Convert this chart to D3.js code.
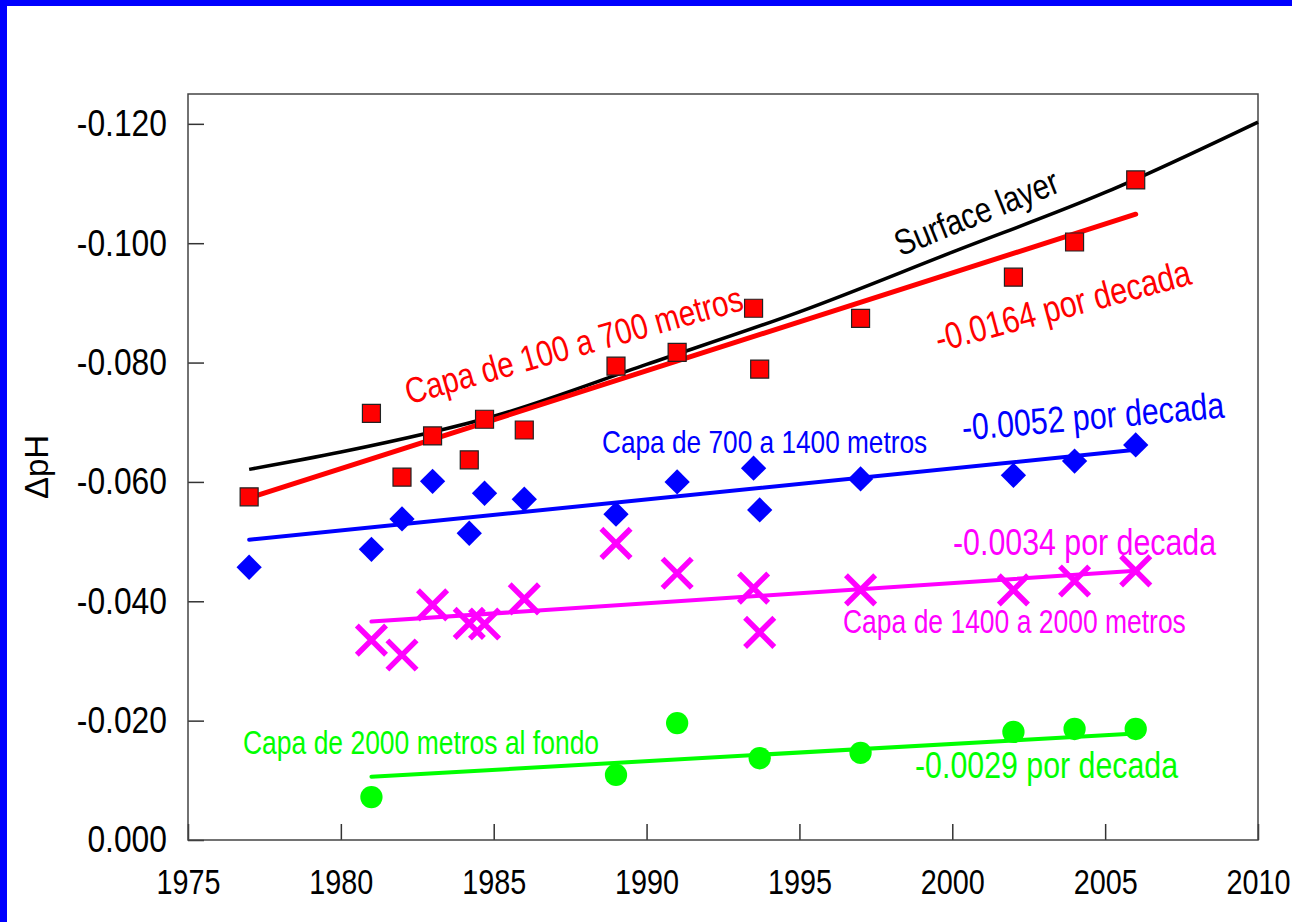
<!DOCTYPE html>
<html>
<head>
<meta charset="utf-8">
<script src="https://cdn.jsdelivr.net/npm/d3@7"></script>
<style>
  body { margin: 0; background: #fff; }
  svg { display: block; }
  text { font-family: "Liberation Sans", Arial, sans-serif; }
</style>
</head>
<body>
<svg id="chart" width="1292" height="922"></svg>
<script>
// ---- data ----
const xTicks = [1975, 1980, 1985, 1990, 1995, 2000, 2005, 2010];
const yTicks = [0, -0.02, -0.04, -0.06, -0.08, -0.10, -0.12];

// Surface layer (smooth curve)
const surfaceYears = [1977, 1980, 1985, 1990, 1995, 2000, 2005, 2010];
const surfacePH    = [-0.0621, -0.0650, -0.0710, -0.0797, -0.0885, -0.0985, -0.1085, -0.1203];

// 100 to 700 m
const years100 = [1977, 1981, 1982, 1983, 1984.2, 1984.7, 1986, 1989, 1991, 1993.5, 1993.7, 1997, 2002, 2004, 2006];
const ph100    = [-0.0575, -0.0715, -0.0608, -0.0677, -0.0637, -0.0705, -0.0687, -0.0794, -0.0817, -0.0891, -0.0789, -0.0874, -0.0943, -0.1002, -0.1106];

// 700 to 1400 m
const years700 = [1977, 1981, 1982, 1983, 1984.2, 1984.7, 1986, 1989, 1991, 1993.5, 1993.7, 1997, 2002, 2004, 2006];
const ph700    = [-0.0457, -0.0487, -0.0538, -0.0601, -0.0514, -0.0581, -0.0571, -0.0546, -0.0600, -0.0623, -0.0553, -0.0605, -0.0611, -0.0635, -0.0662];

// 1400 to 2000 m
const years1400 = [1981, 1982, 1983, 1984.2, 1984.7, 1986, 1989, 1991, 1993.5, 1993.7, 1997, 2002, 2004, 2006];
const ph1400    = [-0.0335, -0.0310, -0.0394, -0.0363, -0.0362, -0.0404, -0.0497, -0.0447, -0.0422, -0.0348, -0.0419, -0.0419, -0.0434, -0.0451];

// 2000 m to bottom
const years2000 = [1981, 1989, 1991, 1993.7, 1997, 2002, 2004, 2006];
const ph2000    = [-0.0072, -0.0109, -0.0196, -0.0137, -0.0146, -0.0181, -0.0186, -0.0186];

// linear trends: first year, last year, value at first year, change per decade
const trendLayers = ["100", "700", "1400", "2000"];
const trendFrom   = [1977, 1977, 1981, 1981];
const trendTo     = [2006, 2006, 2006, 2006];
const trendStart  = [-0.0573, -0.0503, -0.0366, -0.0106];
const trendPerDecade = [-0.0164, -0.0052, -0.0034, -0.0029];

// ---- layout ----
const svg = d3.select("#chart");
const W = 1292, H = 922;
const mLeft = 188, mRight = 1258, mTop = 94, mBottom = 840;
const narrow = 0.82;   // horizontal squeeze that gives a condensed face

svg.append("rect").attr("width", W).attr("height", H).attr("fill", "#fff");
// blue frame on top and left edges
svg.append("rect").attr("x", 0).attr("y", 0).attr("width", W).attr("height", 6).attr("fill", "#0000ff");
svg.append("rect").attr("x", 0).attr("y", 0).attr("width", 7).attr("height", H).attr("fill", "#0000ff");

const x = d3.scaleLinear().domain([1975, 2010]).range([mLeft, mRight]);
const y = d3.scaleLinear().domain([0, -0.125]).range([mBottom, mTop]);

// axes
const yAxis = d3.axisLeft(y).tickValues(yTicks).tickSizeInner(-16).tickSizeOuter(0)
  .tickPadding(21).tickFormat(d => d.toFixed(3));
const xAxis = d3.axisBottom(x).tickValues(xTicks).tickSizeInner(-16).tickSizeOuter(0)
  .tickPadding(28).tickFormat(d3.format("d"));

const gy = svg.append("g").attr("transform", `translate(${mLeft},0)`).call(yAxis);
const gx = svg.append("g").attr("transform", `translate(0,${mBottom})`).call(xAxis);
[gy, gx].forEach(g => {
  g.select(".domain").remove();
  g.selectAll(".tick line").attr("stroke", "#333").attr("stroke-width", 1.5);
  g.selectAll(".tick text").attr("fill", "#000");
});
gy.selectAll(".tick text").style("font-size", "37px")
  .attr("x", -21 / 0.86).attr("transform", "scale(0.86,1)");
gx.selectAll(".tick text").style("font-size", "36px")
  .attr("transform", "scale(0.80,1)");

// plot frame
svg.append("rect").attr("x", mLeft).attr("y", mTop)
  .attr("width", mRight - mLeft).attr("height", mBottom - mTop)
  .attr("fill", "none").attr("stroke", "#444").attr("stroke-width", 1.5);

// y-axis title
svg.append("text")
  .attr("transform", "translate(48,467) rotate(-90)")
  .attr("text-anchor", "middle")
  .style("font-size", "33px")
  .attr("fill", "#000")
  .text("ΔpH");

const plot = svg.append("g");

// surface curve
const surfaceLine = d3.line().x(d => x(d[0])).y(d => y(d[1])).curve(d3.curveMonotoneX);
plot.append("path")
  .datum(surfaceYears.map((yr, i) => [yr, surfacePH[i]]))
  .attr("d", surfaceLine)
  .attr("fill", "none").attr("stroke", "#000").attr("stroke-width", 3.5);

// trend lines
const trendColors = ["#ff0000", "#0000ff", "#ff00ff", "#00ff00"];
const trendWidths = [5, 4, 4, 4];
trendLayers.forEach((k, i) => {
  const v0 = trendStart[i];
  const v1 = v0 + trendPerDecade[i] * (trendTo[i] - trendFrom[i]) / 10;
  plot.append("line")
    .attr("x1", x(trendFrom[i])).attr("y1", y(v0))
    .attr("x2", x(trendTo[i])).attr("y2", y(v1))
    .attr("stroke", trendColors[i]).attr("stroke-width", trendWidths[i])
    .attr("stroke-linecap", "round");
});

// markers
const pts = (ys, vs) => ys.map((yr, i) => [yr, vs[i]]);

plot.selectAll(".sq").data(pts(years100, ph100)).join("path")
  .attr("transform", d => `translate(${x(d[0])},${y(d[1])})`)
  .attr("d", d3.symbol(d3.symbolSquare, 324))
  .attr("fill", "#ff0000").attr("stroke", "#222").attr("stroke-width", 1.2);

plot.selectAll(".dm").data(pts(years700, ph700)).join("path")
  .attr("transform", d => `translate(${x(d[0])},${y(d[1])}) rotate(45)`)
  .attr("d", d3.symbol(d3.symbolSquare, 320))
  .attr("fill", "#0000ff");

plot.selectAll(".xx").data(pts(years1400, ph1400)).join("path")
  .attr("transform", d => `translate(${x(d[0])},${y(d[1])})`)
  .attr("d", d3.symbol(d3.symbolX, 560))
  .attr("fill", "none").attr("stroke", "#ff00ff").attr("stroke-width", 5.5);

plot.selectAll(".ci").data(pts(years2000, ph2000)).join("path")
  .attr("transform", d => `translate(${x(d[0])},${y(d[1])})`)
  .attr("d", d3.symbol(d3.symbolCircle, 390))
  .attr("fill", "#00ff00");

// annotations
const notes = [
  { t: "Surface layer", x: 981, y: 224, a: -22, s: 36, c: "#000", anchor: "middle" },
  { t: "Capa de 100 a 700 metros", x: 577, y: 357, a: -15.8, s: 36, c: "#ff0000", anchor: "middle" },
  { t: "-0.0164 por decada", x: 1066, y: 318, a: -15, s: 37, c: "#ff0000", anchor: "middle" },
  { t: "Capa de 700 a 1400 metros", x: 602, y: 453, a: 0, s: 32, c: "#0000ff", anchor: "start" },
  { t: "-0.0052 por decada", x: 1094, y: 429, a: -5, s: 37, c: "#0000ff", anchor: "middle" },
  { t: "-0.0034 por decada", x: 953, y: 555, a: 0, s: 37, c: "#ff00ff", anchor: "start" },
  { t: "Capa de 1400 a 2000 metros", x: 843, y: 633, a: 0, s: 32.3, c: "#ff00ff", anchor: "start" },
  { t: "Capa de 2000 metros al fondo", x: 243, y: 754, a: 0, s: 32.3, c: "#00ff00", anchor: "start" },
  { t: "-0.0029 por decada", x: 915, y: 778, a: 0, s: 37, c: "#00ff00", anchor: "start" }
];
svg.append("g").selectAll("text").data(notes).join("text")
  .attr("transform", d => `translate(${d.x},${d.y}) rotate(${d.a}) scale(${narrow},1)`)
  .attr("text-anchor", d => d.anchor)
  .attr("fill", d => d.c)
  .style("font-size", d => d.s + "px")
  .text(d => d.t);
</script>
</body>
</html>
